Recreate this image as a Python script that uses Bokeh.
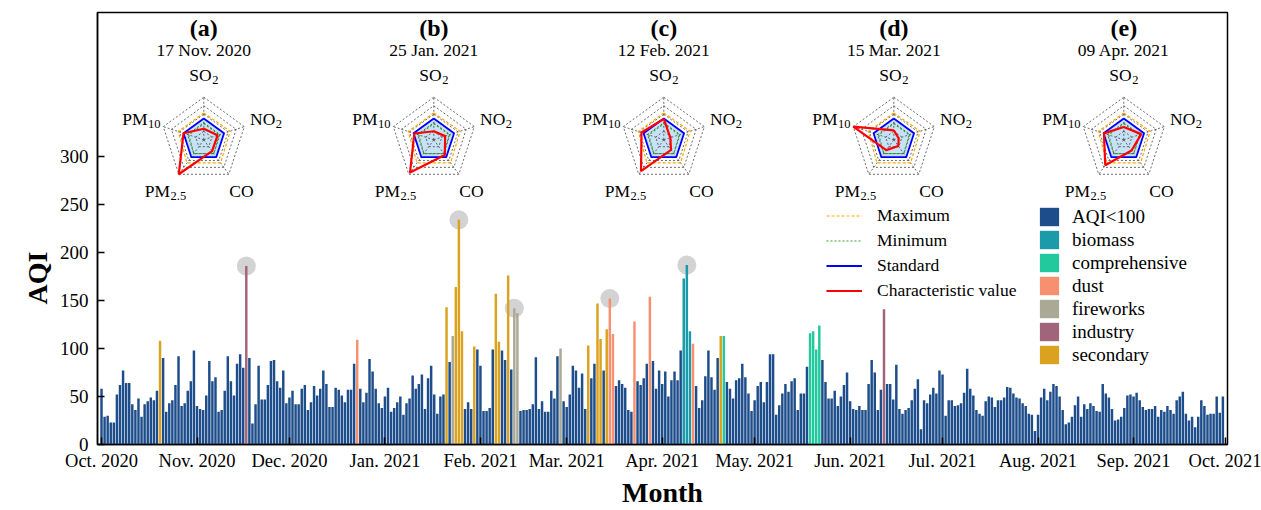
import numpy as np
from bokeh.plotting import figure
from bokeh.models import Range1d, FixedTicker, Legend, LegendItem, ColumnDataSource, Title
from bokeh.core.properties import value
from bokeh.embed import file_html
from bokeh.resources import INLINE

FONT = "Liberation Serif"

# ---------------- data ----------------
aqi = [
    58, 29, 30, 23, 23, 52, 62, 77, 64, 64,
    42, 36, 48, 29, 42, 45, 49, 46, 56, 108,
    90, 34, 43, 46, 62, 92, 40, 43, 56, 66,
    98, 40, 37, 36, 51, 87, 66, 70, 34, 36,
    56, 92, 66, 51, 84, 94, 80, 186, 90, 22,
    42, 82, 47, 47, 62, 87, 88, 66, 59, 77,
    43, 49, 56, 42, 42, 58, 62, 36, 44, 61,
    51, 58, 77, 63, 39, 39, 59, 57, 51, 44,
    57, 57, 84, 109, 58, 44, 54, 89, 76, 58,
    43, 38, 50, 59, 34, 38, 44, 50, 31, 43,
    48, 72, 58, 63, 73, 37, 69, 82, 52, 32,
    50, 52, 143, 86, 113, 164, 234, 118, 37, 44,
    37, 102, 99, 82, 35, 35, 38, 99, 157, 107,
    98, 88, 176, 78, 142, 137, 35, 36, 36, 37,
    42, 91, 37, 45, 34, 34, 56, 48, 92, 100,
    45, 39, 52, 82, 77, 59, 74, 37, 103, 69,
    84, 147, 110, 77, 120, 152, 115, 61, 67, 63,
    59, 36, 34, 128, 66, 62, 69, 84, 154, 87,
    58, 77, 63, 76, 50, 67, 76, 67, 98, 173,
    187, 118, 105, 61, 38, 46, 71, 98, 70, 57,
    90, 113, 113, 65, 58, 48, 67, 69, 84, 70,
    53, 35, 46, 61, 65, 44, 65, 94, 94, 31,
    41, 53, 63, 55, 66, 69, 36, 53, 53, 81,
    116, 118, 99, 124, 88, 65, 48, 48, 56, 40,
    50, 62, 75, 45, 37, 36, 40, 36, 36, 63,
    88, 75, 36, 57, 141, 63, 63, 47, 83, 37,
    32, 36, 38, 46, 58, 68, 16, 46, 43, 52,
    59, 53, 77, 73, 30, 46, 46, 40, 41, 43,
    54, 79, 58, 51, 36, 32, 30, 45, 50, 49,
    39, 46, 46, 49, 60, 59, 53, 49, 48, 43,
    40, 32, 31, 14, 31, 49, 58, 46, 55, 63,
    61, 50, 36, 21, 23, 29, 41, 50, 29, 42,
    37, 43, 40, 35, 34, 63, 53, 49, 37, 25,
    26, 29, 38, 51, 52, 50, 54, 46, 39, 36,
    37, 37, 40, 29, 36, 34, 40, 36, 32, 46,
    50, 55, 32, 25, 29, 18, 29, 46, 40, 31,
    32, 32, 50, 33, 50,
]

event_days = [19, 47, 83, 112, 114, 115, 116, 117, 121, 128, 129, 132, 134, 135,
              149, 158, 161, 162, 164, 165, 166, 173, 178, 189, 190, 191, 192,
              201, 202, 230, 231, 232, 233, 254]
event_types = ["secondary", "industry", "dust", "secondary", "fireworks", "secondary",
               "secondary", "secondary", "secondary", "secondary", "secondary",
               "secondary", "fireworks", "fireworks", "fireworks", "secondary",
               "secondary", "secondary", "secondary", "dust", "dust", "dust", "dust",
               "biomass", "biomass", "biomass", "dust", "secondary", "comprehensive",
               "comprehensive", "comprehensive", "comprehensive", "comprehensive",
               "industry"]

categories = ["AQI<100", "biomass", "comprehensive", "dust", "fireworks", "industry", "secondary"]
category_colors = ["#1d4d8a", "#1b9aaa", "#22c99d", "#f7906f", "#aaa996", "#a0657a", "#dba21f"]

month_ticks = [0, 31, 61, 92, 123, 151, 182, 212, 243, 273, 304, 335, 365]
month_labels = ["Oct. 2020", "Nov. 2020", "Dec. 2020", "Jan. 2021", "Feb. 2021",
                "Mar. 2021", "Apr. 2021", "May. 2021", "Jun. 2021", "Jul. 2021",
                "Aug. 2021", "Sep. 2021", "Oct. 2021"]
aqi_ticks = [0, 50, 100, 150, 200, 250, 300]

radar_panels = ["(a)", "(b)", "(c)", "(d)", "(e)"]
radar_dates = ["17 Nov. 2020", "25 Jan. 2021", "12 Feb. 2021", "15 Mar. 2021", "09 Apr. 2021"]
radar_days = [47, 116, 134, 165, 190]
pollutants = ["SO", "NO", "CO", "PM", "PM"]
pollutant_subs = ["2", "2", "", "2.5", "10"]
radar_levels = [0.2, 0.4, 0.6, 0.8, 1.0]
radar_maximum = [0.63, 0.65, 0.67, 0.67, 0.63]
radar_minimum = [0.38, 0.38, 0.40, 0.40, 0.37]
radar_standard = [0.5, 0.5, 0.5, 0.5, 0.5]
char_a = [0.26, 0.34, 0.33, 1.00, 0.50]
char_b = [0.20, 0.28, 0.44, 0.95, 0.48]
char_c = [0.49, 0.16, 0.29, 0.91, 0.55]
char_d = [0.22, 0.12, 0.18, 0.30, 1.00]
char_e = [0.30, 0.43, 0.31, 0.74, 0.49]
radar_char = [char_a, char_b, char_c, char_d, char_e]

# ---------------- figure ----------------
FRAME_W, FRAME_H = 1130, 432
p = figure(width=1261, height=510, output_backend="svg", toolbar_location=None,
           x_range=Range1d(-1.3, 365.5), y_range=Range1d(0, 450),
           min_border_left=97, min_border_right=34, min_border_top=12, min_border_bottom=66)
p.extra_x_ranges = {"px": Range1d(0, FRAME_W)}
p.extra_y_ranges = {"py": Range1d(FRAME_H, 0)}

p.background_fill_color = "white"
p.border_fill_color = "white"
p.outline_line_color = "black"
p.outline_line_width = 1.5
p.outline_line_alpha = 1.0
p.xgrid.visible = False
p.ygrid.visible = False

types = ["AQI<100"] * len(aqi)
for d, t in zip(event_days, event_types):
    types[d] = t

# highlight circles at characteristic days
p.scatter(x=radar_days, y=[aqi[d] for d in radar_days], size=19,
          fill_color="#c4c4c4", fill_alpha=0.75, line_color=None)

bar_renderers = {}
for cat, col in zip(categories, category_colors):
    idx = [i for i in range(len(aqi)) if types[i] == cat]
    src = ColumnDataSource(dict(x=idx, top=[aqi[i] for i in idx]))
    bar_renderers[cat] = p.vbar(x="x", top="top", bottom=0, width=0.8, source=src,
                                fill_color=col, line_color=None)

# ---------------- radar charts (frame pixel coordinates) ----------------
R = 42.6
CX0, CY0, DCX = 106.3, 127.3, 230.0
ang = np.deg2rad([90, 18, -54, -126, 162])
ux, uy = np.cos(ang), -np.sin(ang)


def ring(cx, cy, r, close=True):
    r = np.asarray(r, dtype=float)
    xs = cx + R * r * ux
    ys = cy + R * r * uy
    if close:
        xs = np.append(xs, xs[0])
        ys = np.append(ys, ys[0])
    return list(xs), list(ys)


grid_xs, grid_ys = [], []
fill_xs, fill_ys = [], []
max_xs, max_ys, min_xs, min_ys = [], [], [], []
std_xs, std_ys, chr_xs, chr_ys = [], [], [], []
tx, ty, tt = [], [], []
dx_, dy_, dt = [], [], []
bx, by, bt = [], [], []
sx, sy, st = [], [], []

label_anchor = [(7.85, -65.3), (71.5, -21.0), (49.8, 51.4), (-33.8, 51.4), (-56.2, -21.0)]

for i in range(len(radar_panels)):
    cx = CX0 + DCX * i
    cy = CY0
    for lv in radar_levels:
        xs, ys = ring(cx, cy, [lv] * 5)
        grid_xs.append(xs); grid_ys.append(ys)
    ox, oy = ring(cx, cy, [1.0] * 5, close=False)
    for k in range(5):
        grid_xs.append([cx, ox[k]]); grid_ys.append([cy, oy[k]])
    xs, ys = ring(cx, cy, radar_standard, close=False)
    fill_xs.append(xs); fill_ys.append(ys)
    xs, ys = ring(cx, cy, radar_standard)
    std_xs.append(xs); std_ys.append(ys)
    xs, ys = ring(cx, cy, radar_maximum)
    max_xs.append(xs); max_ys.append(ys)
    xs, ys = ring(cx, cy, radar_minimum)
    min_xs.append(xs); min_ys.append(ys)
    xs, ys = ring(cx, cy, radar_char[i])
    chr_xs.append(xs); chr_ys.append(ys)

    tx.append(cx); ty.append(cy - 112); tt.append(radar_panels[i])
    dx_.append(cx); dy_.append(cy - 90.3); dt.append(radar_dates[i])
    for k in range(5):
        ax, ay = label_anchor[k]
        bx.append(cx + ax); by.append(cy + ay); bt.append(pollutants[k])
        if pollutant_subs[k]:
            sx.append(cx + ax + 0.5); sy.append(cy + ay + 5); st.append(pollutant_subs[k])

rng = dict(x_range_name="px", y_range_name="py")
p.patches(fill_xs, fill_ys, fill_color="#8ec5ea", fill_alpha=0.5, line_color=None, **rng)
p.multi_line(grid_xs, grid_ys, line_color="#444444", line_width=0.8, line_dash="2 2", **rng)
max_r = p.multi_line(max_xs, max_ys, line_color="#ffa500", line_width=1.2, line_dash="3 2", **rng)
min_r = p.multi_line(min_xs, min_ys, line_color="#2ca02c", line_width=1.1, line_dash="2 2", **rng)
std_r = p.multi_line(std_xs, std_ys, line_color="#0000ff", line_width=1.8, **rng)
chr_r = p.multi_line(chr_xs, chr_ys, line_color="#ff0000", line_width=2.2, **rng)

p.text(x=tx, y=ty, text=tt, text_font=value(FONT), text_font_size="24px",
       text_font_style="bold", text_align="center", text_baseline="middle",
       text_color="black", **rng)
p.text(x=dx_, y=dy_, text=dt, text_font=value(FONT), text_font_size="17.5px",
       text_align="center", text_baseline="middle", text_color="black", **rng)
p.text(x=bx, y=by, text=bt, text_font=value(FONT), text_font_size="17.5px",
       text_align="right", text_baseline="middle", text_color="black", **rng)
p.text(x=sx, y=sy, text=st, text_font=value(FONT), text_font_size="12.5px",
       text_align="left", text_baseline="middle", text_color="black", **rng)

# ---------------- axes ----------------
p.xaxis.ticker = FixedTicker(ticks=month_ticks)
p.xaxis.major_label_overrides = {t: l for t, l in zip(month_ticks, month_labels)}
p.yaxis.ticker = FixedTicker(ticks=aqi_ticks)
for ax in (p.xaxis, p.yaxis):
    ax.major_tick_in = 7
    ax.major_tick_out = 0
    ax.minor_tick_in = 0
    ax.minor_tick_out = 0
    ax.axis_line_color = "black"
    ax.axis_line_width = 1.5
    ax.major_tick_line_color = "black"
    ax.major_tick_line_width = 1.5
    ax.major_label_text_font = FONT
    ax.major_label_text_color = "black"
p.xaxis.major_label_text_font_size = "18.5px"
p.yaxis.major_label_text_font_size = "19px"
p.xaxis.major_label_standoff = 6
p.yaxis.major_label_standoff = 9
p.xaxis.axis_label = "Month"
p.xaxis.axis_label_text_font = FONT
p.xaxis.axis_label_text_font_size = "28px"
p.xaxis.axis_label_text_font_style = "bold"
p.xaxis.axis_label_text_color = "black"
p.xaxis.axis_label_standoff = 3

aqi_title = Title(text="AQI", align="left", offset=140, standoff=8,
                  text_font=FONT, text_font_size="28px", text_font_style="bold",
                  text_color="black")
p.add_layout(aqi_title, "left")

# ---------------- legends ----------------
line_legend = Legend(items=[LegendItem(label="Maximum", renderers=[max_r]),
                            LegendItem(label="Minimum", renderers=[min_r]),
                            LegendItem(label="Standard", renderers=[std_r]),
                            LegendItem(label="Characteristic value", renderers=[chr_r])],
                     location=(729, 143), glyph_width=36, glyph_height=21, label_height=21,
                     spacing=4, padding=0, margin=0, label_standoff=15,
                     label_text_font=FONT, label_text_font_size="17.5px",
                     label_text_color="black", border_line_alpha=0, background_fill_alpha=0)
cat_legend = Legend(items=[LegendItem(label=c, renderers=[bar_renderers[c]]) for c in categories],
                    location=(940, 78), glyph_width=24, glyph_height=23, label_height=23,
                    spacing=0, padding=0, margin=0, label_standoff=11,
                    label_text_font=FONT, label_text_font_size="19px",
                    label_text_color="black", border_line_alpha=0, background_fill_alpha=0)
p.add_layout(line_legend, "center")
p.add_layout(cat_legend, "center")

open("out.html", "w").write(file_html(p, INLINE))
